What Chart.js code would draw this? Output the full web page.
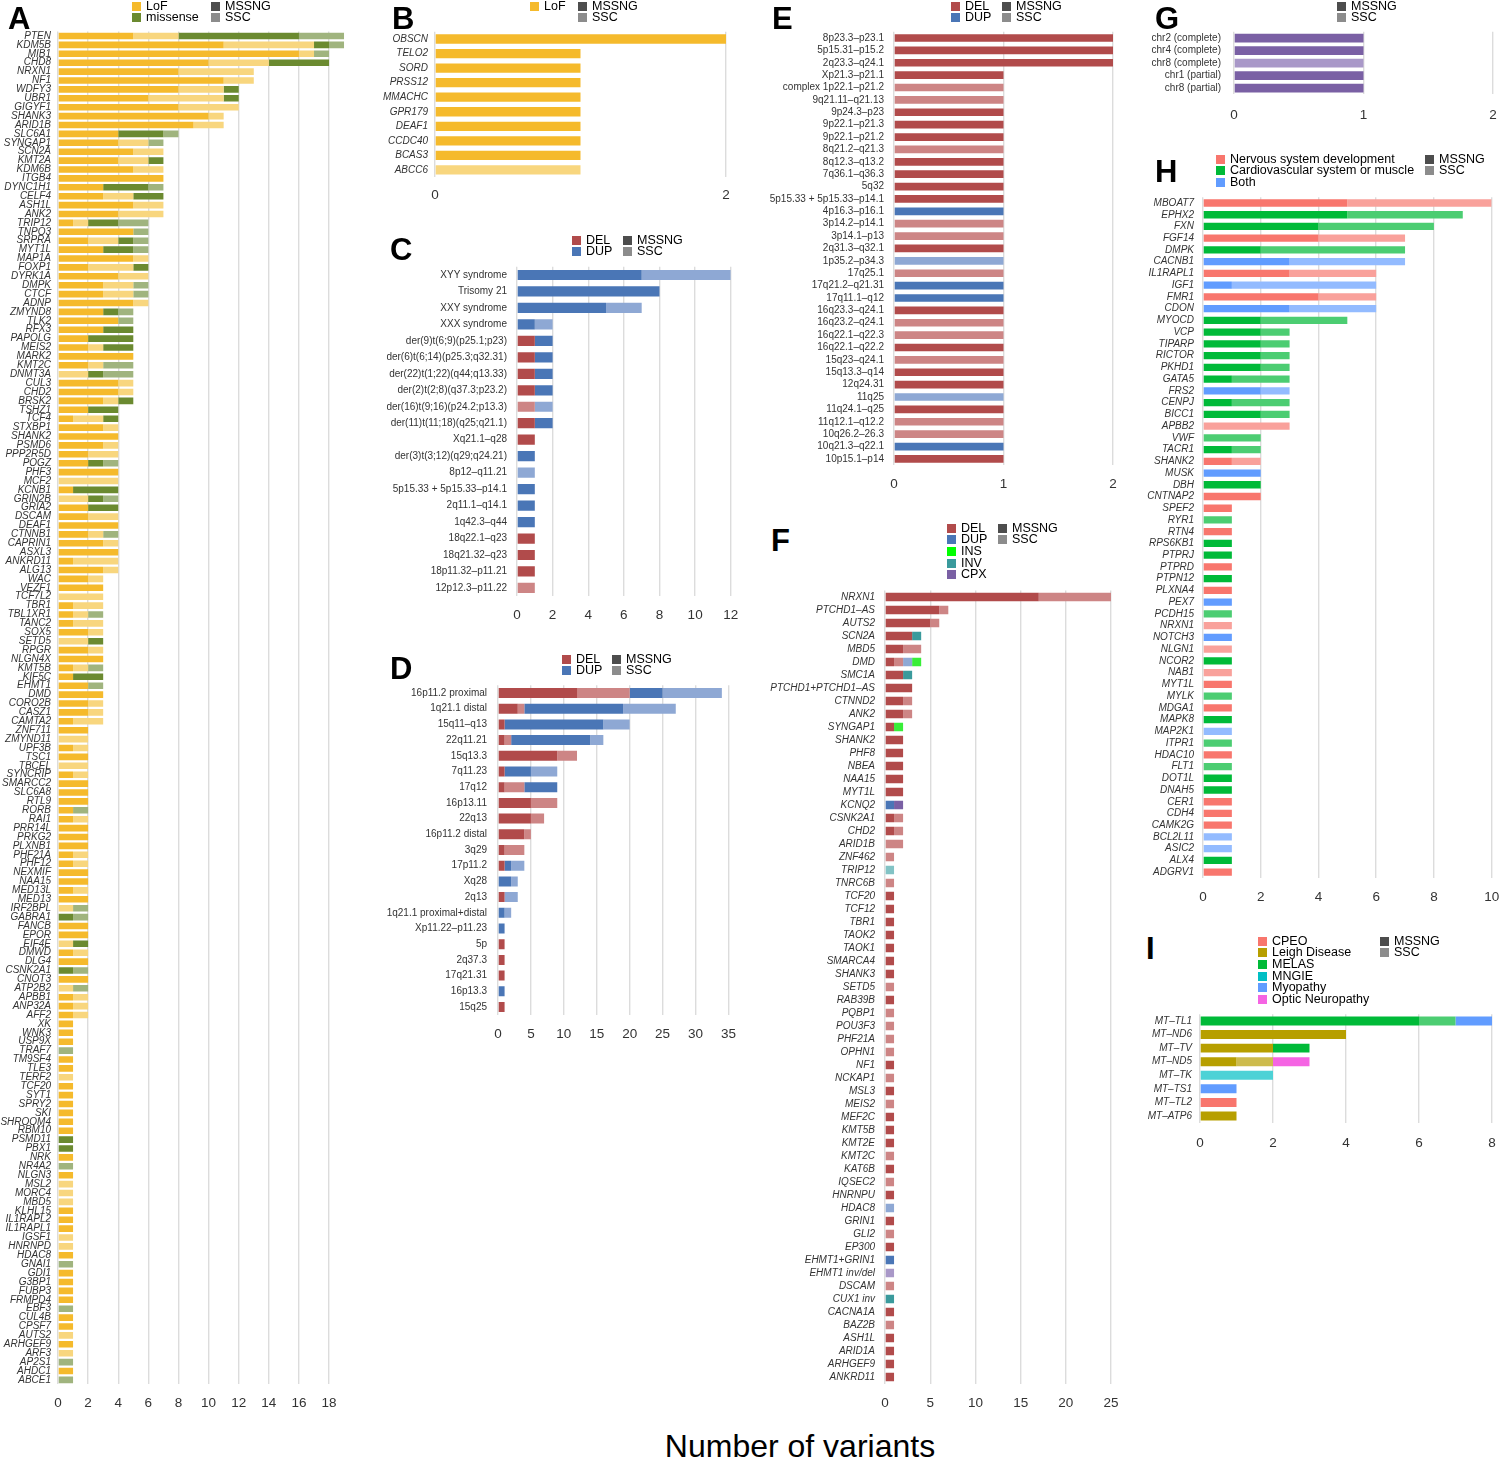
<!DOCTYPE html>
<html>
<head>
<meta charset="utf-8">
<script src="https://cdn.jsdelivr.net/npm/chart.js@4.4.1/dist/chart.umd.min.js"></script>
<style>
  body { margin: 0; background: #fff; width: 1500px; height: 1458px; position: relative; overflow: hidden;
         font-family: "Liberation Sans", Arial, sans-serif; }
  canvas { position: absolute; }
  .letter { position: absolute; font-weight: bold; font-size: 31px; line-height: 1; color: #000; }
  .sw { position: absolute; width: 9px; height: 9px; }
  .lt { position: absolute; font-size: 12.5px; line-height: 12px; color: #000; white-space: nowrap; }
  #xtitle { position: absolute; left: 0; width: 1600px; top: 1428px; text-align: center; font-size: 32px; color: #000; }
</style>
</head>
<body>
<div id="xtitle">Number of variants</div>
<script>
// ---------- A: genes, LoF / missense ----------
const aGenes = [
  'PTEN','KDM5B','MIB1','CHD8','NRXN1','NF1','WDFY3','UBR1','GIGYF1','SHANK3',
  'ARID1B','SLC6A1','SYNGAP1','SCN2A','KMT2A','KDM6B','ITGB4','DYNC1H1','CELF4','ASH1L',
  'ANK2','TRIP12','TNPO3','SRPRA','MYT1L','MAP1A','FOXP1','DYRK1A','DMPK','CTCF',
  'ADNP','ZMYND8','TLK2','RFX3','PAPOLG','MEIS2','MARK2','KMT2C','DNMT3A','CUL3',
  'CHD2','BRSK2','TSHZ1','TCF4','STXBP1','SHANK2','PSMD6','PPP2R5D','POGZ','PHF3',
  'MCF2','KCNB1','GRIN2B','GRIA2','DSCAM','DEAF1','CTNNB1','CAPRIN1','ASXL3','ANKRD11',
  'ALG13','WAC','VEZF1','TCF7L2','TBR1','TBL1XR1','TANC2','SOX5','SETD5','RPGR',
  'NLGN4X','KMT5B','KIF5C','EHMT1','DMD','CORO2B','CASZ1','CAMTA2','ZNF711','ZMYND11',
  'UPF3B','TSC1','TBCEL','SYNCRIP','SMARCC2','SLC6A8','RTL9','RORB','RAI1','PRR14L',
  'PRKG2','PLXNB1','PHF21A','PHF12','NEXMIF','NAA15','MED13L','MED13','IRF2BPL','GABRA1',
  'FANCB','EPOR','EIF4E','DMWD','DLG4','CSNK2A1','CNOT3','ATP2B2','APBB1','ANP32A',
  'AFF2','XK','WNK3','USP9X','TRAF7','TM9SF4','TLE3','TERF2','TCF20','SYT1',
  'SPRY2','SKI','SHROOM4','RBM10','PSMD11','PBX1','NRK','NR4A2','NLGN3','MSL2',
  'MORC4','MBD5','KLHL15','IL1RAPL2','IL1RAPL1','IGSF1','HNRNPD','HDAC8','GNAI1','GDI1',
  'G3BP1','FUBP3','FRMPD4','EBF3','CUL4B','CPSF7','AUTS2','ARHGEF9','ARF3','AP2S1',
  'AHDC1','ABCE1'
];
const aLofMssng = [
  5,11,16,10,8,11,8,6,8,10,  9,4,4,5,4,5,7,3,3,5,  4,1,5,2,3,5,2,4,3,3,  5,3,4,3,2,2,5,2,0,4,
  4,3,2,1,3,4,3,2,2,4,  0,1,0,2,2,4,2,3,4,1,  3,2,3,0,1,1,1,2,0,2,  3,1,1,2,3,2,2,1,2,0,
  1,2,0,1,2,2,2,1,1,2,  2,2,1,1,2,2,1,2,0,0,  2,2,0,1,2,0,2,0,1,1,  1,1,1,1,0,1,1,0,1,1,
  1,1,1,1,0,0,1,0,1,0,  0,0,1,1,1,0,0,1,0,1,  1,1,1,0,1,1,0,1,0,0,  1,0
];
const aLofSsc = [
  3,6,1,4,5,2,3,5,4,1,  2,0,2,2,2,2,0,0,2,2,  3,1,0,2,0,1,3,2,2,2,  1,0,0,0,0,1,0,1,2,1,
  1,1,0,2,1,0,1,2,0,0,  4,0,2,0,2,0,1,1,0,3,  1,1,0,3,2,1,2,1,2,1,  0,1,0,0,0,1,1,2,0,2,
  1,0,2,1,0,0,0,0,1,0,  0,0,1,1,0,0,1,0,1,0,  0,0,1,1,0,0,0,1,1,1,  1,0,0,0,0,0,0,1,0,0,
  0,0,0,0,0,0,0,0,0,1,  1,1,0,0,0,1,1,0,0,0,  0,0,0,0,0,0,1,0,1,0,  0,0
];
const aMisMssng = [
  8,1,0,4,0,0,1,1,0,0,  0,3,0,0,1,0,0,3,2,0,  0,2,0,1,2,0,1,0,0,0,  0,1,0,2,3,2,0,0,1,0,
  0,1,2,1,0,0,0,0,1,0,  0,3,1,2,0,0,0,0,0,0,  0,0,0,0,0,0,0,0,1,0,  0,0,2,0,0,0,0,0,0,0,
  0,0,0,0,0,0,0,0,0,0,  0,0,0,0,0,0,0,0,0,1,  0,0,1,0,0,1,0,0,0,0,  0,0,0,0,0,0,0,0,0,0,
  0,0,0,0,1,1,0,0,0,0,  0,0,0,0,0,0,0,0,0,0,  0,0,0,0,0,0,0,0,0,0,  0,0
];
const aMisSsc = [
  3,1,1,0,0,0,0,0,0,0,  0,1,1,0,0,0,0,1,0,0,  0,2,1,1,1,0,0,0,1,1,  0,1,1,0,0,0,0,2,2,0,
  0,0,0,0,0,0,0,0,1,0,  0,0,1,0,0,0,1,0,0,0,  0,0,0,0,0,1,0,0,0,0,  0,1,0,1,0,0,0,0,0,0,
  0,0,0,0,0,0,0,1,0,0,  0,0,0,0,0,0,0,0,1,1,  0,0,0,0,0,1,0,1,0,0,  0,0,0,0,1,0,0,0,0,0,
  0,0,0,0,0,0,0,1,0,0,  0,0,0,0,0,0,0,0,1,0,  0,0,0,1,0,0,0,0,0,1,  0,1
];

// ---------- B ----------
const bGenes = ['OBSCN','TELO2','SORD','PRSS12','MMACHC','GPR179','DEAF1','CCDC40','BCAS3','ABCC6'];
const bLofMssng = [2,1,1,1,1,1,1,1,1,0];
const bLofSsc   = [0,0,0,0,0,0,0,0,0,1];

// ---------- C ----------
const cRegions = ['XYY syndrome','Trisomy 21','XXY syndrome','XXX syndrome','der(9)t(6;9)(p25.1;p23)',
  'der(6)t(6;14)(p25.3;q32.31)','der(22)t(1;22)(q44;q13.33)','der(2)t(2;8)(q37.3;p23.2)',
  'der(16)t(9;16)(p24.2;p13.3)','der(11)t(11;18)(q25;q21.1)','Xq21.1–q28','der(3)t(3;12)(q29;q24.21)',
  '8p12–q11.21','5p15.33 + 5p15.33–p14.1','2q11.1–q14.1','1q42.3–q44','18q22.1–q23','18q21.32–q23',
  '18p11.32–p11.21','12p12.3–p11.22'];
const cDelMssng = [0,0,0,0,1,1,1,1,0,1,1,0,0,0,0,0,1,1,1,0];
const cDelSsc   = [0,0,0,0,0,0,0,0,1,0,0,0,0,0,0,0,0,0,0,1];
const cDupMssng = [7,8,5,1,1,1,1,1,0,1,0,1,0,1,1,1,0,0,0,0];
const cDupSsc   = [5,0,2,1,0,0,0,0,1,0,0,0,1,0,0,0,0,0,0,0];

// ---------- D ----------
const dRegions = ['16p11.2 proximal','1q21.1 distal','15q11–q13','22q11.21','15q13.3','7q11.23','17q12',
  '16p13.11','22q13','16p11.2 distal','3q29','17p11.2','Xq28','2q13','1q21.1 proximal+distal',
  'Xp11.22–p11.23','5p','2q37.3','17q21.31','16p13.3','15q25'];
const dDelMssng = [12,3,1,1,9,1,1,5,5,4,1,1,0,1,0,0,1,1,1,0,1];
const dDelSsc   = [8,1,0,1,3,0,3,4,2,1,3,0,0,0,0,0,0,0,0,0,0];
const dDupMssng = [5,15,15,12,0,4,5,0,0,0,0,1,2,0,1,1,0,0,0,1,0];
const dDupSsc   = [9,8,4,2,0,4,0,0,0,0,0,2,1,2,1,0,0,0,0,0,0];

// ---------- E ----------
const eRegions = ['8p23.3–p23.1','5p15.31–p15.2','2q23.3–q24.1','Xp21.3–p21.1','complex 1p22.1–p21.2',
  '9q21.11–q21.13','9p24.3–p23','9p22.1–p21.3','9p22.1–p21.2','8q21.2–q21.3','8q12.3–q13.2',
  '7q36.1–q36.3','5q32','5p15.33 + 5p15.33–p14.1','4p16.3–p16.1','3p14.2–p14.1','3p14.1–p13',
  '2q31.3–q32.1','1p35.2–p34.3','17q25.1','17q21.2–q21.31','17q11.1–q12','16q23.3–q24.1',
  '16q23.2–q24.1','16q22.1–q22.3','16q22.1–q22.2','15q23–q24.1','15q13.3–q14','12q24.31','11q25',
  '11q24.1–q25','11q12.1–q12.2','10q26.2–26.3','10q21.3–q22.1','10p15.1–p14'];
const eDelMssng = [2,2,2,1,0,0,1,1,1,0,1,1,1,1,0,0,0,1,0,0,0,0,1,0,0,1,0,1,1,0,1,0,0,0,1];
const eDelSsc   = [0,0,0,0,1,1,0,0,0,1,0,0,0,0,0,1,1,0,0,1,0,0,0,1,1,0,1,0,0,0,0,1,1,0,0];
const eDupMssng = [0,0,0,0,0,0,0,0,0,0,0,0,0,0,1,0,0,0,0,0,1,1,0,0,0,0,0,0,0,0,0,0,0,1,0];
const eDupSsc   = [0,0,0,0,0,0,0,0,0,0,0,0,0,0,0,0,0,0,1,0,0,0,0,0,0,0,0,0,0,1,0,0,0,0,0];

// ---------- F ----------
const fGenes = ['NRXN1','PTCHD1–AS','AUTS2','SCN2A','MBD5','DMD','SMC1A','PTCHD1+PTCHD1–AS','CTNND2','ANK2',
  'SYNGAP1','SHANK2','PHF8','NBEA','NAA15','MYT1L','KCNQ2','CSNK2A1','CHD2','ARID1B',
  'ZNF462','TRIP12','TNRC6B','TCF20','TCF12','TBR1','TAOK2','TAOK1','SMARCA4','SHANK3',
  'SETD5','RAB39B','PQBP1','POU3F3','PHF21A','OPHN1','NF1','NCKAP1','MSL3','MEIS2',
  'MEF2C','KMT5B','KMT2E','KMT2C','KAT6B','IQSEC2','HNRNPU','HDAC8','GRIN1','GLI2',
  'EP300','EHMT1+GRIN1','EHMT1 inv/del','DSCAM','CUX1 inv','CACNA1A','BAZ2B','ASH1L','ARID1A','ARHGEF9',
  'ANKRD11'];
const fDelMssng = [17,6,5,3,2,1,2,3,2,2, 1,2,2,2,2,2,0,1,1,0, 0,0,0,1,1,1,1,1,1,1,
  0,1,0,0,0,0,1,0,1,0, 1,1,1,0,1,0,1,0,1,0, 1,0,0,0,0,1,0,1,1,1, 1];
const fDelSsc   = [8,1,1,0,2,1,0,0,1,1, 0,0,0,0,0,0,0,1,1,2, 1,0,1,0,0,0,0,0,0,0,
  1,0,1,1,1,1,0,1,0,1, 0,0,0,1,0,1,0,0,0,1, 0,0,0,1,0,0,1,0,0,0, 0];
const fDupMssng = [0,0,0,0,0,0,0,0,0,0, 0,0,0,0,0,0,1,0,0,0, 0,0,0,0,0,0,0,0,0,0,
  0,0,0,0,0,0,0,0,0,0, 0,0,0,0,0,0,0,0,0,0, 0,1,0,0,0,0,0,0,0,0, 0];
const fDupSsc   = [0,0,0,0,0,1,0,0,0,0, 0,0,0,0,0,0,0,0,0,0, 0,0,0,0,0,0,0,0,0,0,
  0,0,0,0,0,0,0,0,0,0, 0,0,0,0,0,0,0,1,0,0, 0,0,0,0,0,0,0,0,0,0, 0];
const fInsMssng = [0,0,0,0,0,1,0,0,0,0, 1,0,0,0,0,0,0,0,0,0, 0,0,0,0,0,0,0,0,0,0,
  0,0,0,0,0,0,0,0,0,0, 0,0,0,0,0,0,0,0,0,0, 0,0,0,0,0,0,0,0,0,0, 0];
const fInvMssng = [0,0,0,1,0,0,1,0,0,0, 0,0,0,0,0,0,0,0,0,0, 0,0,0,0,0,0,0,0,0,0,
  0,0,0,0,0,0,0,0,0,0, 0,0,0,0,0,0,0,0,0,0, 0,0,0,0,1,0,0,0,0,0, 0];
const fInvSsc   = [0,0,0,0,0,0,0,0,0,0, 0,0,0,0,0,0,0,0,0,0, 0,1,0,0,0,0,0,0,0,0,
  0,0,0,0,0,0,0,0,0,0, 0,0,0,0,0,0,0,0,0,0, 0,0,0,0,0,0,0,0,0,0, 0];
const fCpxMssng = [0,0,0,0,0,0,0,0,0,0, 0,0,0,0,0,0,1,0,0,0, 0,0,0,0,0,0,0,0,0,0,
  0,0,0,0,0,0,0,0,0,0, 0,0,0,0,0,0,0,0,0,0, 0,0,0,0,0,0,0,0,0,0, 0];
const fCpxSsc   = [0,0,0,0,0,0,0,0,0,0, 0,0,0,0,0,0,0,0,0,0, 0,0,0,0,0,0,0,0,0,0,
  0,0,0,0,0,0,0,0,0,0, 0,0,0,0,0,0,0,0,0,0, 0,0,1,0,0,0,0,0,0,0, 0];

// ---------- G ----------
const gRegions = ['chr2 (complete)','chr4 (complete)','chr8 (complete)','chr1 (partial)','chr8 (partial)'];
const gCpxMssng = [1,1,0,1,1];
const gCpxSsc   = [0,0,1,0,0];

// ---------- H ----------
const hGenes = ['MBOAT7','EPHX2','FXN','FGF14','DMPK','CACNB1','IL1RAPL1','IGF1','FMR1','CDON',
  'MYOCD','VCP','TIPARP','RICTOR','PKHD1','GATA5','FRS2','CENPJ','BICC1','APBB2',
  'VWF','TACR1','SHANK2','MUSK','DBH','CNTNAP2','SPEF2','RYR1','RTN4','RPS6KB1',
  'PTPRJ','PTPRD','PTPN12','PLXNA4','PEX7','PCDH15','NRXN1','NOTCH3','NLGN1','NCOR2',
  'NAB1','MYT1L','MYLK','MDGA1','MAPK8','MAP2K1','ITPR1','HDAC10','FLT1','DOT1L',
  'DNAH5','CER1','CDH4','CAMK2G','BCL2L11','ASIC2','ALX4','ADGRV1'];
const hNervMssng = [5,0,0,4,0,0,3,0,4,0, 0,0,0,0,0,0,0,0,0,0, 0,0,1,0,0,2,1,0,1,0,
  0,1,0,1,0,0,0,0,0,0, 0,1,0,1,0,0,0,1,0,0, 0,1,1,1,0,0,0,1];
const hNervSsc   = [5,0,0,3,0,0,3,0,2,0, 0,0,0,0,0,0,0,0,0,3, 0,0,1,0,0,0,0,0,0,0,
  0,0,0,0,0,0,1,0,1,0, 1,0,0,0,0,0,0,0,0,0, 0,0,0,0,0,0,0,0];
const hCardMssng = [0,5,4,0,2,0,0,0,0,0, 2,2,2,2,2,1,0,1,2,0, 0,1,0,0,2,0,0,0,0,1,
  1,0,1,0,0,0,0,0,0,1, 0,0,0,0,1,0,0,0,0,1, 1,0,0,0,0,0,1,0];
const hCardSsc   = [0,4,4,0,5,0,0,0,0,0, 3,1,1,1,1,2,0,2,1,0, 2,1,0,0,0,0,0,1,0,0,
  0,0,0,0,0,1,0,0,0,0, 0,0,1,0,0,0,1,0,1,0, 0,0,0,0,0,0,0,0];
const hBothMssng = [0,0,0,0,0,3,0,1,0,3, 0,0,0,0,0,0,2,0,0,0, 0,0,0,2,0,0,0,0,0,0,
  0,0,0,0,1,0,0,1,0,0, 0,0,0,0,0,0,0,0,0,0, 0,0,0,0,0,0,0,0];
const hBothSsc   = [0,0,0,0,0,4,0,5,0,3, 0,0,0,0,0,0,1,0,0,0, 0,0,0,0,0,0,0,0,0,0,
  0,0,0,0,0,0,0,0,0,0, 0,0,0,0,0,1,0,0,0,0, 0,0,0,0,1,1,0,0];

// ---------- I ----------
const iGenes = ['MT–TL1','MT–ND6','MT–TV','MT–ND5','MT–TK','MT–TS1','MT–TL2','MT–ATP6'];
const iCpeoMssng     = [0,0,0,0,0,0,1,0];
const iLeighMssng    = [0,4,2,1,0,0,0,1];
const iLeighSsc      = [0,0,0,1,0,0,0,0];
const iMelasMssng    = [6,0,1,0,0,0,0,0];
const iMelasSsc      = [1,0,0,0,0,0,0,0];
const iMngieSsc      = [0,0,0,0,2,0,0,0];
const iMyopathyMssng = [1,0,0,0,0,1,0,0];
const iOpticMssng    = [0,0,0,1,0,0,0,0];

// ---------- colours ----------
const col = {
  lofM: '#f5ba2c', lofS: '#f8d67e', misM: '#6b8a30', misS: '#a0b47e',
  delM: '#b14b4b', delS: '#cd8585', dupM: '#4a76b6', dupS: '#8ea8d4',
  insM: '#38ee38', invM: '#3a9a9c', invS: '#82c3c5', cpxM: '#7a60a4', cpxS: '#a998c8',
  nerM: '#f8766d', nerS: '#f9a19b', carM: '#00ba38', carS: '#4ccd72', bthM: '#619cff', bthS: '#93bbff',
  cpeo: '#f8766d', leiM: '#b79f00', leiS: '#cdbb4d', melM: '#00ba38', melS: '#4ccd72',
  mngS: '#4dd2d6', mngie: '#00bfc4', myo: '#619cff', opt: '#f564e3',
  mssng: '#4d4d4d', ssc: '#8c8c8c'
};

Chart.defaults.font.family = "'Liberation Sans', Arial, sans-serif";

function panel(o) {
  const chartTop = o.firstY - o.pitch / 2;
  const chartH = o.pitch * o.labels.length;
  const left = Math.max(0, Math.floor(o.x0 - o.yW));
  // the y axis reserves label half-height + tick padding above the plot, so leave room for it
  const top = Math.floor(chartTop - 26);
  const axisW = o.x0 - left;
  const padTop = chartTop - top;
  const chartW = o.xRight - o.x0;
  const width = Math.ceil(axisW + chartW + 18);
  const padRight = width - axisW - chartW;
  const height = Math.ceil(padTop + chartH + (o.tickY - chartTop - chartH) + 14);
  const xH = height - padTop - chartH;

  const cv = document.createElement('canvas');
  cv.width = width; cv.height = height;
  cv.style.left = left + 'px'; cv.style.top = top + 'px';
  document.body.appendChild(cv);

  new Chart(cv, {
    type: 'bar',
    data: {
      labels: o.labels,
      datasets: o.series.map(s => ({
        data: s[0], backgroundColor: s[1], borderWidth: 0,
        barPercentage: o.barFrac, categoryPercentage: 1
      }))
    },
    options: {
      indexAxis: 'y',
      responsive: false,
      animation: false,
      layout: { padding: { top: padTop, right: padRight, left: 0, bottom: 0 } },
      plugins: { legend: { display: false }, tooltip: { enabled: false } },
      scales: {
        x: {
          type: 'linear', stacked: true, min: 0, max: o.max, position: 'bottom',
          grid: { color: '#dcdcdc', lineWidth: 1.4, drawTicks: false },
          border: { display: false },
          ticks: { stepSize: o.step, includeBounds: false, color: '#333',
                   font: { size: 13.5 }, padding: o.tickY - (chartTop + chartH) - 8.1 },
          afterFit: s => { s.height = xH; }
        },
        y: {
          type: 'category', stacked: true,
          grid: { display: false, drawTicks: false },
          border: { display: false },
          ticks: { autoSkip: false, color: '#333', padding: o.labelPad,
                   font: { size: o.fontSize || 10, style: o.italic ? 'italic' : 'normal' } },
          afterFit: s => { s.width = axisW; }
        }
      }
    }
  });
}

function letter(t, x, y) {
  const d = document.createElement('div');
  d.className = 'letter'; d.textContent = t;
  d.style.left = x + 'px'; d.style.top = y + 'px';
  document.body.appendChild(d);
}

function legend(x, y, items) {
  items.forEach((it, i) => {
    const cy = y + i * 11.7;
    const sw = document.createElement('div');
    sw.className = 'sw'; sw.style.background = it[1];
    sw.style.left = x + 'px'; sw.style.top = (cy - 4.5) + 'px';
    const tx = document.createElement('div');
    tx.className = 'lt'; tx.textContent = it[0];
    tx.style.left = (x + 14) + 'px'; tx.style.top = (cy - 6.5) + 'px';
    document.body.appendChild(sw); document.body.appendChild(tx);
  });
}
const cohorts = [['MSSNG', col.mssng], ['SSC', col.ssc]];

// A
panel({ labels: aGenes, x0: 58, xRight: 58 + 19 * 15.06, max: 19, step: 2, firstY: 36, pitch: 8.9,
  italic: true, barFrac: 0.74, tickY: 1403, yW: 58, labelPad: 7,
  series: [[aLofMssng, col.lofM], [aLofSsc, col.lofS], [aMisMssng, col.misM], [aMisSsc, col.misS]] });
letter('A', 8, 3);
legend(132, 6, [['LoF', col.lofM], ['missense', col.misM]]);
legend(211, 6, cohorts);

// B
panel({ labels: bGenes, x0: 435, xRight: 726, max: 2, step: 2, firstY: 39, pitch: 14.55,
  italic: true, barFrac: 0.64, tickY: 195, yW: 60, labelPad: 7,
  series: [[bLofMssng, col.lofM], [bLofSsc, col.lofS]] });
letter('B', 392, 3);
legend(530, 6, [['LoF', col.lofM]]);
legend(578, 6, cohorts);

// C
panel({ labels: cRegions, x0: 517, xRight: 731, max: 12, step: 2, firstY: 275, pitch: 16.47,
  italic: false, barFrac: 0.62, tickY: 615, yW: 135, labelPad: 10,
  series: [[cDelMssng, col.delM], [cDelSsc, col.delS], [cDupMssng, col.dupM], [cDupSsc, col.dupS]] });
letter('C', 390, 234);
legend(572, 240, [['DEL', col.delM], ['DUP', col.dupM]]);
legend(623, 240, cohorts);

// D
panel({ labels: dRegions, x0: 498, xRight: 729, max: 35, step: 5, firstY: 693, pitch: 15.7,
  italic: false, barFrac: 0.64, tickY: 1034, yW: 118, labelPad: 11,
  series: [[dDelMssng, col.delM], [dDelSsc, col.delS], [dDupMssng, col.dupM], [dDupSsc, col.dupS]] });
letter('D', 390, 653);
legend(562, 659, [['DEL', col.delM], ['DUP', col.dupM]]);
legend(612, 659, cohorts);

// E
panel({ labels: eRegions, x0: 894, xRight: 1113, max: 2, step: 1, firstY: 38, pitch: 12.38,
  italic: false, barFrac: 0.62, tickY: 484, yW: 130, labelPad: 10,
  series: [[eDelMssng, col.delM], [eDelSsc, col.delS], [eDupMssng, col.dupM], [eDupSsc, col.dupS]] });
letter('E', 772, 3);
legend(951, 6, [['DEL', col.delM], ['DUP', col.dupM]]);
legend(1002, 6, cohorts);

// F
panel({ labels: fGenes, x0: 885, xRight: 1112, max: 25, step: 5, firstY: 597, pitch: 13.0,
  italic: true, barFrac: 0.66, tickY: 1403, yW: 122, labelPad: 10,
  series: [[fDelMssng, col.delM], [fDelSsc, col.delS], [fDupMssng, col.dupM], [fDupSsc, col.dupS],
           [fInsMssng, col.insM], [fInvMssng, col.invM], [fInvSsc, col.invS],
           [fCpxMssng, col.cpxM], [fCpxSsc, col.cpxS]] });
letter('F', 771, 525);
legend(947, 528, [['DEL', col.delM], ['DUP', col.dupM], ['INS', '#00ff00'], ['INV', col.invM], ['CPX', col.cpxM]]);
legend(998, 528, cohorts);

// G
panel({ labels: gRegions, x0: 1234, xRight: 1493, max: 2, step: 1, firstY: 38, pitch: 12.5,
  italic: false, barFrac: 0.7, tickY: 115, yW: 90, labelPad: 13,
  series: [[gCpxMssng, col.cpxM], [gCpxSsc, col.cpxS]] });
letter('G', 1155, 3);
legend(1337, 6, cohorts);

// H
panel({ labels: hGenes, x0: 1203, xRight: 1492, max: 10, step: 2, firstY: 203, pitch: 11.74,
  italic: true, barFrac: 0.62, tickY: 897, yW: 62, labelPad: 9,
  series: [[hNervMssng, col.nerM], [hNervSsc, col.nerS], [hCardMssng, col.carM], [hCardSsc, col.carS],
           [hBothMssng, col.bthM], [hBothSsc, col.bthS]] });
letter('H', 1155, 156);
legend(1216, 159, [['Nervous system development', col.nerM], ['Cardiovascular system or muscle', col.carM], ['Both', col.bthM]]);
legend(1425, 159, cohorts);

// I
panel({ labels: iGenes, x0: 1200, xRight: 1492, max: 8, step: 2, firstY: 1021, pitch: 13.57,
  italic: true, barFrac: 0.66, tickY: 1143, yW: 60, labelPad: 8,
  series: [[iCpeoMssng, col.cpeo], [iLeighMssng, col.leiM], [iLeighSsc, col.leiS],
           [iMelasMssng, col.melM], [iMelasSsc, col.melS], [iMngieSsc, col.mngS],
           [iMyopathyMssng, col.myo], [iOpticMssng, col.opt]] });
letter('I', 1146, 933);
legend(1258, 941, [['CPEO', col.cpeo], ['Leigh Disease', col.leiM], ['MELAS', col.melM],
                   ['MNGIE', col.mngie], ['Myopathy', col.myo], ['Optic Neuropathy', col.opt]]);
legend(1380, 941, cohorts);
</script>
</body>
</html>
